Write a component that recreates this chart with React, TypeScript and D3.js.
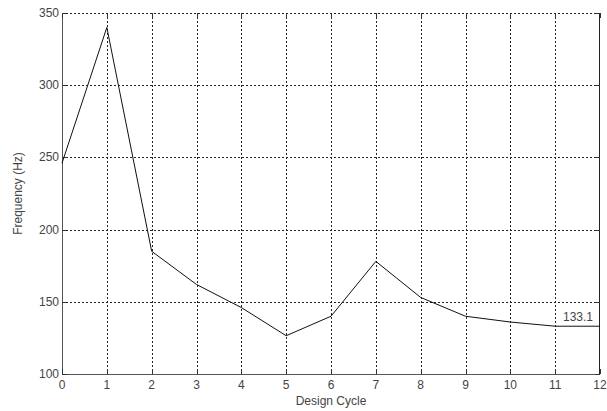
import { useEffect, useRef } from "react";
import * as d3 from "d3";

const cycles = [0, 1, 2, 3, 4, 5, 6, 7, 8, 9, 10, 11, 12];
const frequency = [246, 340, 185, 162, 146, 126.5, 140, 178, 153, 140, 136, 133.1, 133.1];
const xTicks = [0, 1, 2, 3, 4, 5, 6, 7, 8, 9, 10, 11, 12];
const yTicks = [100, 150, 200, 250, 300, 350];
const finalLabel = "133.1";

const App = () => {
  const ref = useRef<SVGSVGElement>(null);

  useEffect(() => {
    const svg = d3.select(ref.current);
    svg.selectAll("*").remove();

    const margin = { top: 13, right: 7, bottom: 37, left: 62 };
    const width = 607 - margin.left - margin.right;
    const height = 411 - margin.top - margin.bottom;

    const x = d3.scaleLinear().domain([0, 12]).range([0, width]);
    const y = d3.scaleLinear().domain([100, 350]).range([height, 0]);

    const g = svg.append("g").attr("transform", `translate(${margin.left},${margin.top})`);
    const font = "Arial, 'Liberation Sans', sans-serif";

    // grid
    g.selectAll(".vgrid")
      .data(xTicks.slice(1, -1))
      .enter()
      .append("line")
      .attr("x1", (d) => Math.round(x(d)) + 0.5)
      .attr("x2", (d) => Math.round(x(d)) + 0.5)
      .attr("y1", 0)
      .attr("y2", height)
      .attr("stroke", "#222")
      .attr("stroke-dasharray", "2,2");
    g.selectAll(".hgrid")
      .data(yTicks.slice(1, -1))
      .enter()
      .append("line")
      .attr("x1", 0)
      .attr("x2", width)
      .attr("y1", (d) => Math.round(y(d)) + 0.5)
      .attr("y2", (d) => Math.round(y(d)) + 0.5)
      .attr("stroke", "#222")
      .attr("stroke-dasharray", "2,2");
    // top dotted line
    g.append("line")
      .attr("x1", 0).attr("x2", width)
      .attr("y1", 0.5).attr("y2", 0.5)
      .attr("stroke", "#222")
      .attr("stroke-dasharray", "2,2");

    // axes box
    g.append("line").attr("x1", 0.5).attr("x2", 0.5).attr("y1", 0).attr("y2", height).attr("stroke", "#555");
    g.append("line").attr("x1", 0).attr("x2", width).attr("y1", height + 0.5).attr("y2", height + 0.5).attr("stroke", "#555");
    g.append("line").attr("x1", width - 0.5).attr("x2", width - 0.5).attr("y1", 0).attr("y2", height).attr("stroke", "#222");

    // ticks
    g.selectAll(".xtick")
      .data(xTicks)
      .enter()
      .append("line")
      .attr("x1", (d) => Math.round(x(d)) + 0.5)
      .attr("x2", (d) => Math.round(x(d)) + 0.5)
      .attr("y1", height)
      .attr("y2", height - 5)
      .attr("stroke", "#333");
    g.selectAll(".xtickt")
      .data(xTicks)
      .enter()
      .append("line")
      .attr("x1", (d) => Math.round(x(d)) + 0.5)
      .attr("x2", (d) => Math.round(x(d)) + 0.5)
      .attr("y1", 0)
      .attr("y2", 5)
      .attr("stroke", "#333");
    g.selectAll(".ytick")
      .data(yTicks)
      .enter()
      .append("line")
      .attr("x1", 0)
      .attr("x2", 5)
      .attr("y1", (d) => Math.round(y(d)) + 0.5)
      .attr("y2", (d) => Math.round(y(d)) + 0.5)
      .attr("stroke", "#333");
    g.selectAll(".ytickr")
      .data(yTicks)
      .enter()
      .append("line")
      .attr("x1", width - 5)
      .attr("x2", width)
      .attr("y1", (d) => Math.round(y(d)) + 0.5)
      .attr("y2", (d) => Math.round(y(d)) + 0.5)
      .attr("stroke", "#333");

    // tick labels
    g.selectAll(".xlabel")
      .data(xTicks)
      .enter()
      .append("text")
      .attr("x", (d) => x(d))
      .attr("y", height + 15)
      .attr("text-anchor", "middle")
      .attr("font-family", font)
      .attr("font-size", 12)
      .attr("fill", "#444")
      .text((d) => d);
    g.selectAll(".ylabel")
      .data(yTicks)
      .enter()
      .append("text")
      .attr("x", -3)
      .attr("y", (d) => y(d) + 4)
      .attr("text-anchor", "end")
      .attr("font-family", font)
      .attr("font-size", 12)
      .attr("fill", "#444")
      .text((d) => d);

    // axis titles
    g.append("text")
      .attr("x", width / 2)
      .attr("y", height + 31)
      .attr("text-anchor", "middle")
      .attr("font-family", font)
      .attr("font-size", 12)
      .attr("fill", "#444")
      .text("Design Cycle");
    g.append("text")
      .attr("transform", `translate(${-40},${height / 2}) rotate(-90)`)
      .attr("text-anchor", "middle")
      .attr("font-family", font)
      .attr("font-size", 12)
      .attr("fill", "#444")
      .text("Frequency (Hz)");

    // data line
    const line = d3
      .line<number>()
      .x((_, i) => x(cycles[i]))
      .y((d) => y(d));
    g.append("path")
      .datum(frequency)
      .attr("d", line)
      .attr("fill", "none")
      .attr("stroke", "#111")
      .attr("stroke-width", 1);

    // final value label
    g.append("text")
      .attr("x", width - 7)
      .attr("y", y(frequency[frequency.length - 1]) - 5)
      .attr("text-anchor", "end")
      .attr("font-family", font)
      .attr("font-size", 12)
      .attr("fill", "#444")
      .text(finalLabel);
  }, []);

  return (
    <svg
      ref={ref}
      width={607}
      height={411}
      style={{ position: "absolute", left: 0, top: 0, background: "#fff" }}
    />
  );
};

export default App;
